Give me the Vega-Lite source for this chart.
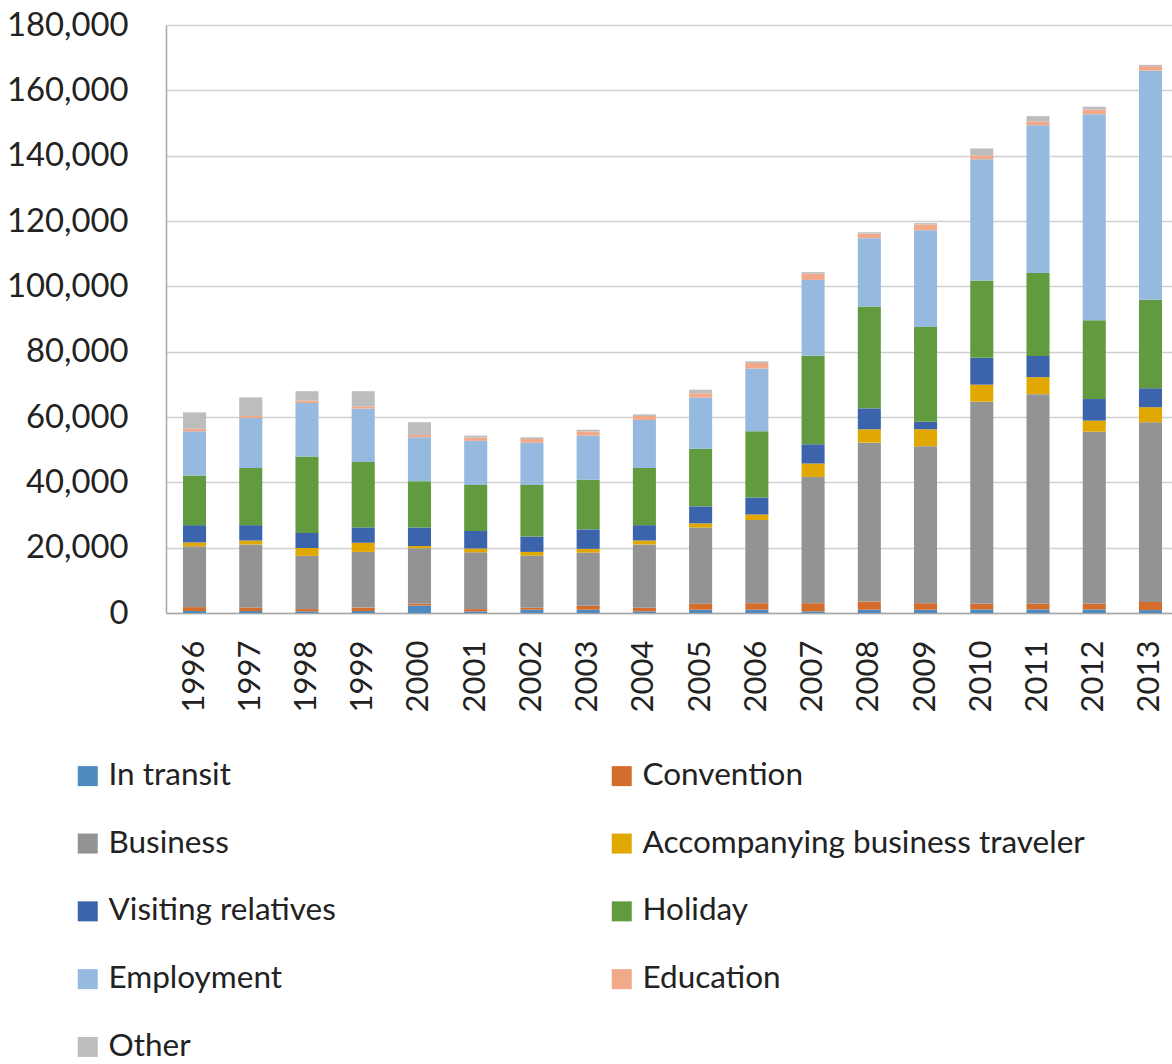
{
  "$schema": "https://vega.github.io/schema/vega-lite/v6.json",
  "autosize": {"type": "none"},
  "padding": {"left": 166, "top": 25, "right": 0, "bottom": 451},
  "width": 1006,
  "height": 588,
  "background": "white",
  "config": {
    "view": {"stroke": null},
    "font": "Lato",
    "axis": {"labelFont": "Lato", "labelColor": "#222222", "titleFontSize": 0},
    "legend": {"labelFont": "Lato", "labelColor": "#222222", "labelFontSize": 31.5}
  },
  "datasets": {
    "purposes": [
      {"purpose": "In transit", "rank": 1},
      {"purpose": "Convention", "rank": 2},
      {"purpose": "Business", "rank": 3},
      {"purpose": "Accompanying business traveler", "rank": 4},
      {"purpose": "Visiting relatives", "rank": 5},
      {"purpose": "Holiday", "rank": 6},
      {"purpose": "Employment", "rank": 7},
      {"purpose": "Education", "rank": 8},
      {"purpose": "Other", "rank": 9}
    ],
    "visits": [
      {"year": "1996", "purpose": "In transit", "visitors": 600},
      {"year": "1996", "purpose": "Convention", "visitors": 1200},
      {"year": "1996", "purpose": "Business", "visitors": 18600},
      {"year": "1996", "purpose": "Accompanying business traveler", "visitors": 1200},
      {"year": "1996", "purpose": "Visiting relatives", "visitors": 5300},
      {"year": "1996", "purpose": "Holiday", "visitors": 15200},
      {"year": "1996", "purpose": "Employment", "visitors": 13500},
      {"year": "1996", "purpose": "Education", "visitors": 800},
      {"year": "1996", "purpose": "Other", "visitors": 5000},

      {"year": "1997", "purpose": "In transit", "visitors": 600},
      {"year": "1997", "purpose": "Convention", "visitors": 1100},
      {"year": "1997", "purpose": "Business", "visitors": 19300},
      {"year": "1997", "purpose": "Accompanying business traveler", "visitors": 1200},
      {"year": "1997", "purpose": "Visiting relatives", "visitors": 4700},
      {"year": "1997", "purpose": "Holiday", "visitors": 17500},
      {"year": "1997", "purpose": "Employment", "visitors": 15300},
      {"year": "1997", "purpose": "Education", "visitors": 600},
      {"year": "1997", "purpose": "Other", "visitors": 5700},

      {"year": "1998", "purpose": "In transit", "visitors": 500},
      {"year": "1998", "purpose": "Convention", "visitors": 700},
      {"year": "1998", "purpose": "Business", "visitors": 16300},
      {"year": "1998", "purpose": "Accompanying business traveler", "visitors": 2400},
      {"year": "1998", "purpose": "Visiting relatives", "visitors": 4600},
      {"year": "1998", "purpose": "Holiday", "visitors": 23400},
      {"year": "1998", "purpose": "Employment", "visitors": 16400},
      {"year": "1998", "purpose": "Education", "visitors": 700},
      {"year": "1998", "purpose": "Other", "visitors": 2900},

      {"year": "1999", "purpose": "In transit", "visitors": 600},
      {"year": "1999", "purpose": "Convention", "visitors": 1050},
      {"year": "1999", "purpose": "Business", "visitors": 17050},
      {"year": "1999", "purpose": "Accompanying business traveler", "visitors": 2800},
      {"year": "1999", "purpose": "Visiting relatives", "visitors": 4700},
      {"year": "1999", "purpose": "Holiday", "visitors": 20000},
      {"year": "1999", "purpose": "Employment", "visitors": 16400},
      {"year": "1999", "purpose": "Education", "visitors": 700},
      {"year": "1999", "purpose": "Other", "visitors": 4600},

      {"year": "2000", "purpose": "In transit", "visitors": 2300},
      {"year": "2000", "purpose": "Convention", "visitors": 600},
      {"year": "2000", "purpose": "Business", "visitors": 16900},
      {"year": "2000", "purpose": "Accompanying business traveler", "visitors": 700},
      {"year": "2000", "purpose": "Visiting relatives", "visitors": 5700},
      {"year": "2000", "purpose": "Holiday", "visitors": 14100},
      {"year": "2000", "purpose": "Employment", "visitors": 13500},
      {"year": "2000", "purpose": "Education", "visitors": 700},
      {"year": "2000", "purpose": "Other", "visitors": 3900},

      {"year": "2001", "purpose": "In transit", "visitors": 500},
      {"year": "2001", "purpose": "Convention", "visitors": 700},
      {"year": "2001", "purpose": "Business", "visitors": 17400},
      {"year": "2001", "purpose": "Accompanying business traveler", "visitors": 1150},
      {"year": "2001", "purpose": "Visiting relatives", "visitors": 5350},
      {"year": "2001", "purpose": "Holiday", "visitors": 14100},
      {"year": "2001", "purpose": "Employment", "visitors": 13500},
      {"year": "2001", "purpose": "Education", "visitors": 1000},
      {"year": "2001", "purpose": "Other", "visitors": 600},

      {"year": "2002", "purpose": "In transit", "visitors": 1000},
      {"year": "2002", "purpose": "Convention", "visitors": 600},
      {"year": "2002", "purpose": "Business", "visitors": 16000},
      {"year": "2002", "purpose": "Accompanying business traveler", "visitors": 1100},
      {"year": "2002", "purpose": "Visiting relatives", "visitors": 4700},
      {"year": "2002", "purpose": "Holiday", "visitors": 15800},
      {"year": "2002", "purpose": "Employment", "visitors": 12900},
      {"year": "2002", "purpose": "Education", "visitors": 1200},
      {"year": "2002", "purpose": "Other", "visitors": 500},

      {"year": "2003", "purpose": "In transit", "visitors": 1000},
      {"year": "2003", "purpose": "Convention", "visitors": 1200},
      {"year": "2003", "purpose": "Business", "visitors": 16300},
      {"year": "2003", "purpose": "Accompanying business traveler", "visitors": 1150},
      {"year": "2003", "purpose": "Visiting relatives", "visitors": 5950},
      {"year": "2003", "purpose": "Holiday", "visitors": 15200},
      {"year": "2003", "purpose": "Employment", "visitors": 13500},
      {"year": "2003", "purpose": "Education", "visitors": 1300},
      {"year": "2003", "purpose": "Other", "visitors": 500},

      {"year": "2004", "purpose": "In transit", "visitors": 500},
      {"year": "2004", "purpose": "Convention", "visitors": 1100},
      {"year": "2004", "purpose": "Business", "visitors": 19400},
      {"year": "2004", "purpose": "Accompanying business traveler", "visitors": 1200},
      {"year": "2004", "purpose": "Visiting relatives", "visitors": 4700},
      {"year": "2004", "purpose": "Holiday", "visitors": 17500},
      {"year": "2004", "purpose": "Employment", "visitors": 14700},
      {"year": "2004", "purpose": "Education", "visitors": 1200},
      {"year": "2004", "purpose": "Other", "visitors": 500},

      {"year": "2005", "purpose": "In transit", "visitors": 1000},
      {"year": "2005", "purpose": "Convention", "visitors": 1850},
      {"year": "2005", "purpose": "Business", "visitors": 23300},
      {"year": "2005", "purpose": "Accompanying business traveler", "visitors": 1300},
      {"year": "2005", "purpose": "Visiting relatives", "visitors": 5200},
      {"year": "2005", "purpose": "Holiday", "visitors": 17600},
      {"year": "2005", "purpose": "Employment", "visitors": 15700},
      {"year": "2005", "purpose": "Education", "visitors": 1300},
      {"year": "2005", "purpose": "Other", "visitors": 1100},

      {"year": "2006", "purpose": "In transit", "visitors": 1000},
      {"year": "2006", "purpose": "Convention", "visitors": 2000},
      {"year": "2006", "purpose": "Business", "visitors": 25450},
      {"year": "2006", "purpose": "Accompanying business traveler", "visitors": 1700},
      {"year": "2006", "purpose": "Visiting relatives", "visitors": 5200},
      {"year": "2006", "purpose": "Holiday", "visitors": 20300},
      {"year": "2006", "purpose": "Employment", "visitors": 19200},
      {"year": "2006", "purpose": "Education", "visitors": 1700},
      {"year": "2006", "purpose": "Other", "visitors": 500},

      {"year": "2007", "purpose": "In transit", "visitors": 500},
      {"year": "2007", "purpose": "Convention", "visitors": 2500},
      {"year": "2007", "purpose": "Business", "visitors": 38650},
      {"year": "2007", "purpose": "Accompanying business traveler", "visitors": 4100},
      {"year": "2007", "purpose": "Visiting relatives", "visitors": 5900},
      {"year": "2007", "purpose": "Holiday", "visitors": 27100},
      {"year": "2007", "purpose": "Employment", "visitors": 23200},
      {"year": "2007", "purpose": "Education", "visitors": 1900},
      {"year": "2007", "purpose": "Other", "visitors": 500},

      {"year": "2008", "purpose": "In transit", "visitors": 1000},
      {"year": "2008", "purpose": "Convention", "visitors": 2500},
      {"year": "2008", "purpose": "Business", "visitors": 48650},
      {"year": "2008", "purpose": "Accompanying business traveler", "visitors": 4100},
      {"year": "2008", "purpose": "Visiting relatives", "visitors": 6400},
      {"year": "2008", "purpose": "Holiday", "visitors": 31200},
      {"year": "2008", "purpose": "Employment", "visitors": 20900},
      {"year": "2008", "purpose": "Education", "visitors": 1400},
      {"year": "2008", "purpose": "Other", "visitors": 400},

      {"year": "2009", "purpose": "In transit", "visitors": 1000},
      {"year": "2009", "purpose": "Convention", "visitors": 2000},
      {"year": "2009", "purpose": "Business", "visitors": 48050},
      {"year": "2009", "purpose": "Accompanying business traveler", "visitors": 5200},
      {"year": "2009", "purpose": "Visiting relatives", "visitors": 2300},
      {"year": "2009", "purpose": "Holiday", "visitors": 29000},
      {"year": "2009", "purpose": "Employment", "visitors": 29600},
      {"year": "2009", "purpose": "Education", "visitors": 1800},
      {"year": "2009", "purpose": "Other", "visitors": 400},

      {"year": "2010", "purpose": "In transit", "visitors": 1100},
      {"year": "2010", "purpose": "Convention", "visitors": 1700},
      {"year": "2010", "purpose": "Business", "visitors": 61900},
      {"year": "2010", "purpose": "Accompanying business traveler", "visitors": 5200},
      {"year": "2010", "purpose": "Visiting relatives", "visitors": 8200},
      {"year": "2010", "purpose": "Holiday", "visitors": 23700},
      {"year": "2010", "purpose": "Employment", "visitors": 37100},
      {"year": "2010", "purpose": "Education", "visitors": 1200},
      {"year": "2010", "purpose": "Other", "visitors": 2100},

      {"year": "2011", "purpose": "In transit", "visitors": 1100},
      {"year": "2011", "purpose": "Convention", "visitors": 1700},
      {"year": "2011", "purpose": "Business", "visitors": 64200},
      {"year": "2011", "purpose": "Accompanying business traveler", "visitors": 5200},
      {"year": "2011", "purpose": "Visiting relatives", "visitors": 6500},
      {"year": "2011", "purpose": "Holiday", "visitors": 25400},
      {"year": "2011", "purpose": "Employment", "visitors": 45200},
      {"year": "2011", "purpose": "Education", "visitors": 1200},
      {"year": "2011", "purpose": "Other", "visitors": 1600},

      {"year": "2012", "purpose": "In transit", "visitors": 1100},
      {"year": "2012", "purpose": "Convention", "visitors": 1700},
      {"year": "2012", "purpose": "Business", "visitors": 52700},
      {"year": "2012", "purpose": "Accompanying business traveler", "visitors": 3400},
      {"year": "2012", "purpose": "Visiting relatives", "visitors": 6600},
      {"year": "2012", "purpose": "Holiday", "visitors": 24100},
      {"year": "2012", "purpose": "Employment", "visitors": 63100},
      {"year": "2012", "purpose": "Education", "visitors": 1400},
      {"year": "2012", "purpose": "Other", "visitors": 900},

      {"year": "2013", "purpose": "In transit", "visitors": 900},
      {"year": "2013", "purpose": "Convention", "visitors": 2500},
      {"year": "2013", "purpose": "Business", "visitors": 55000},
      {"year": "2013", "purpose": "Accompanying business traveler", "visitors": 4600},
      {"year": "2013", "purpose": "Visiting relatives", "visitors": 5800},
      {"year": "2013", "purpose": "Holiday", "visitors": 27100},
      {"year": "2013", "purpose": "Employment", "visitors": 70100},
      {"year": "2013", "purpose": "Education", "visitors": 1400},
      {"year": "2013", "purpose": "Other", "visitors": 400}
    ]
  },
  "data": {"name": "visits"},
  "transform": [
    {"lookup": "purpose", "from": {"data": {"name": "purposes"}, "key": "purpose", "fields": ["rank"]}}
  ],
  "mark": {"type": "bar"},
  "encoding": {
    "x": {
      "field": "year",
      "type": "ordinal",
      "title": null,
      "scale": {"paddingInner": 0.59, "paddingOuter": 0.24, "align": 0.63},
      "axis": {
        "labelAngle": -90,
        "labelPadding": 27,
        "labelFontSize": 31,
        "ticks": false,
        "tickSize": 0,
        "domainColor": "#a6a6a6",
        "domainWidth": 1.5,
        "grid": false
      }
    },
    "y": {
      "field": "visitors",
      "type": "quantitative",
      "stack": "zero",
      "title": null,
      "scale": {"domain": [0, 180000], "nice": false},
      "axis": {
        "values": [0, 20000, 40000, 60000, 80000, 100000, 120000, 140000, 160000, 180000],
        "format": ",d",
        "labelFontSize": 32.8,
        "ticks": false,
        "tickSize": 0,
        "labelPadding": 38,
        "domain": true,
        "domainColor": "#a6a6a6",
        "domainWidth": 1.5,
        "grid": true,
        "gridColor": "#d0d0d0",
        "gridWidth": 1.5
      }
    },
    "color": {
      "field": "purpose",
      "type": "nominal",
      "sort": ["In transit", "Convention", "Business", "Accompanying business traveler", "Visiting relatives", "Holiday", "Employment", "Education", "Other"],
      "scale": {
        "domain": ["In transit", "Convention", "Business", "Accompanying business traveler", "Visiting relatives", "Holiday", "Employment", "Education", "Other"],
        "range": ["#4E89C0", "#D46D2B", "#939393", "#E2A802", "#3B64AD", "#629B3F", "#96B9DF", "#F1A98A", "#BDBDBD"]
      },
      "legend": {
        "title": null,
        "orient": "none",
        "legendX": -94,
        "legendY": 735,
        "columns": 2,
        "direction": "horizontal",
        "symbolType": "square",
        "symbolSize": 400,
        "symbolStrokeWidth": 0,
        "labelOffset": 5,
        "columnPadding": 270,
        "rowPadding": 34.8,
        "labelLimit": 600
      }
    },
    "order": {"field": "rank", "type": "quantitative", "sort": "ascending"}
  }
}
